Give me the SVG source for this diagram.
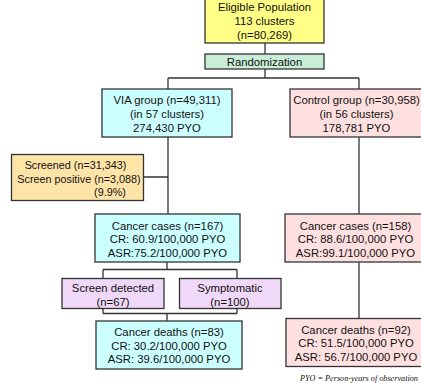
<svg xmlns="http://www.w3.org/2000/svg" width="421" height="383" viewBox="0 0 421 383">
<style>
.b{stroke:#333;stroke-width:1.3}
.t{font-family:"Liberation Sans",Arial,sans-serif;font-size:11.3px;fill:#111;text-anchor:middle}
.s{font-size:10.8px}
.c{fill:none;stroke:#333;stroke-width:1.3}
.yel{fill:#FFFF88}.grn{fill:#C8EED8}.cyn{fill:#CCFFFF}.pnk{fill:#FFE0E0}.org{fill:#FFE4A8}.pur{fill:#F0D8F8}
.fn{font-family:"Liberation Serif","Times New Roman",serif;font-style:italic;font-size:8.2px;fill:#111}
</style>
<rect width="421" height="383" fill="#fff"/>
<g id="connectors">
<path class="c" d="M265,43V54M265,69V78M168,78H359M168,78V89M359,78V89"/>
<path class="c" d="M168,137V214M144,177H168"/>
<path class="c" d="M359,137V214"/>
<path class="c" d="M167,262V269.5M103,269.5H237M103,269.5V278.5M237,269.5V278.5"/>
<path class="c" d="M103,308.5V313.5M237,308.5V313.5M103,313.5H237M167,313.5V321"/>
<path class="c" d="M359,262V318.5"/>
</g>
<g id="eligible"><rect class="b yel" x="205" y="-1" width="119" height="44"/>
<text class="t" x="264.5" y="11">Eligible Population</text><text class="t" x="264.5" y="25">113 clusters</text><text class="t" x="264.5" y="39">(n=80,269)</text></g>
<g id="randomization"><rect class="b grn" x="205" y="54" width="119" height="15"/>
<text class="t" x="264.5" y="66">Randomization</text></g>
<g id="via"><rect class="b cyn" x="102" y="89" width="130" height="48"/>
<text class="t" x="167" y="103.5">VIA group (n=49,311)</text><text class="t" x="167" y="117.5">(in 57 clusters)</text><text class="t" x="167" y="131.5">274,430 PYO</text></g>
<g id="control"><rect class="b pnk" x="290" y="89" width="134" height="48"/>
<text class="t" x="356.5" y="103.5">Control group (n=30,958)</text><text class="t" x="356.5" y="117.5">(in 56 clusters)</text><text class="t" x="356.5" y="131.5">178,781 PYO</text></g>
<g id="screened"><rect class="b org" x="11.5" y="154.5" width="132" height="46"/>
<text class="t s" x="75.5" y="169">Screened (n=31,343)</text><text class="t s" x="79" y="182.5">Screen positive (n=3,088)</text><text class="t s" x="110" y="196">(9.9%)</text></g>
<g id="via-cases"><rect class="b cyn" x="95" y="214" width="145" height="48"/>
<text class="t" x="167.5" y="229.5">Cancer cases (n=167)</text><text class="t" x="167.5" y="243.3">CR: 60.9/100,000 PYO</text><text class="t" x="167.5" y="257">ASR:75.2/100,000 PYO</text></g>
<g id="control-cases"><rect class="b pnk" x="285" y="214" width="141" height="48"/>
<text class="t" x="355.5" y="229.5">Cancer cases (n=158)</text><text class="t" x="355.5" y="243.3">CR: 88.6/100,000 PYO</text><text class="t" x="355.5" y="257">ASR:99.1/100,000 PYO</text></g>
<g id="screen-detected"><rect class="b pur" x="62" y="278.5" width="102" height="30"/>
<text class="t" x="113" y="291.5">Screen detected</text><text class="t" x="113" y="306">(n=67)</text></g>
<g id="symptomatic"><rect class="b pur" x="179.5" y="278.5" width="101.5" height="30"/>
<text class="t" x="230" y="291.5">Symptomatic</text><text class="t" x="230" y="306">(n=100)</text></g>
<g id="via-deaths"><rect class="b cyn" x="96" y="321" width="146" height="48"/>
<text class="t" x="169" y="335.7">Cancer deaths (n=83)</text><text class="t" x="169" y="349.5">CR: 30.2/100,000 PYO</text><text class="t" x="169" y="363.3">ASR: 39.6/100,000 PYO</text></g>
<g id="control-deaths"><rect class="b pnk" x="286" y="318.5" width="140" height="48"/>
<text class="t" x="356" y="333.5">Cancer deaths (n=92)</text><text class="t" x="356" y="347">CR: 51.5/100,000 PYO</text><text class="t" x="356" y="360.5">ASR: 56.7/100,000 PYO</text></g>
<text class="fn" x="300" y="380.5">PYO = Person-years of observation</text>
</svg>
